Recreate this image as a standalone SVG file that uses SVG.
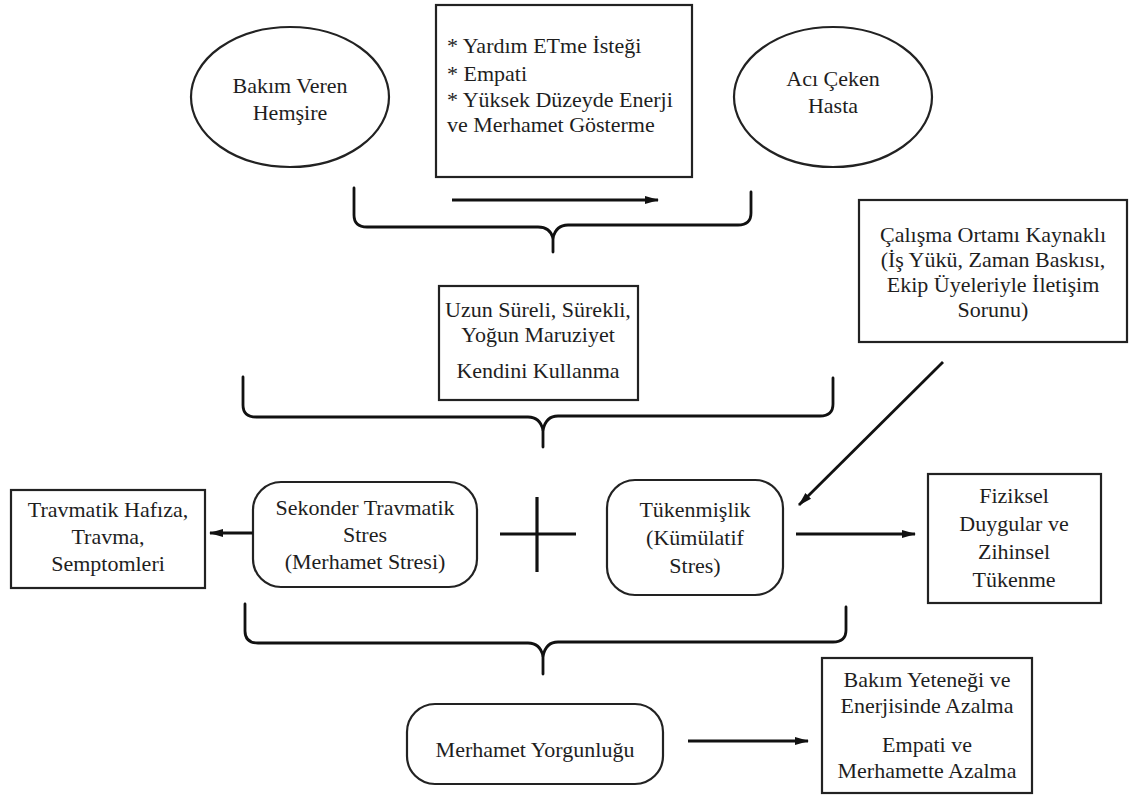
<svg xmlns="http://www.w3.org/2000/svg" width="1129" height="796" viewBox="0 0 1129 796">
  <style>
    .box { fill: #ffffff; stroke: #222; stroke-width: 2.2; }
    text { font-family: 'Liberation Serif', serif; font-size: 22px; fill: #1e1e1e; text-anchor: middle; }
    text.lft { text-anchor: start; }
    .edge { fill: none; stroke: #111; stroke-width: 2.8; }
    .brace { fill: none; stroke: #111; stroke-width: 2.8; stroke-linecap: round; stroke-linejoin: round; }
    .plus { stroke: #111; stroke-width: 3.2; }
  </style>
  <defs>
    <marker id="arrow" markerUnits="userSpaceOnUse" markerWidth="14" markerHeight="10" refX="13" refY="5" orient="auto">
      <path d="M0,1 L14,5 L0,9 z" fill="#111"/>
    </marker>
  </defs>

  <rect width="1129" height="796" fill="#ffffff"/>

  <g id="nurse">
    <ellipse class="box" cx="290" cy="97" rx="99" ry="70"/>
    <text x="290" y="93">Bakım Veren</text>
    <text x="290" y="120">Hemşire</text>
  </g>

  <g id="traits">
    <rect class="box" x="436" y="5" width="256" height="172"/>
    <text class="lft" x="447" y="53">* Yardım ETme İsteği</text>
    <text class="lft" x="447" y="81">* Empati</text>
    <text class="lft" x="447" y="107">* Yüksek Düzeyde Enerji</text>
    <text class="lft" x="447" y="132">ve Merhamet Gösterme</text>
  </g>

  <g id="patient">
    <ellipse class="box" cx="833" cy="97" rx="99" ry="70"/>
    <text x="833" y="86">Acı Çeken</text>
    <text x="833" y="113">Hasta</text>
  </g>

  <g id="exposure">
    <rect class="box" x="439" y="286" width="199" height="114"/>
    <text x="538" y="317">Uzun Süreli, Sürekli,</text>
    <text x="538" y="342">Yoğun Maruziyet</text>
    <text x="538" y="378">Kendini Kullanma</text>
  </g>

  <g id="workplace">
    <rect class="box" x="859" y="200" width="268" height="142"/>
    <text x="993" y="242">Çalışma Ortamı Kaynaklı</text>
    <text x="993" y="267">(İş Yükü, Zaman Baskısı,</text>
    <text x="993" y="292">Ekip Üyeleriyle İletişim</text>
    <text x="993" y="317">Sorunu)</text>
  </g>

  <g id="trauma-symptoms">
    <rect class="box" x="11" y="490" width="194" height="98"/>
    <text x="108" y="517">Travmatik Hafıza,</text>
    <text x="108" y="544">Travma,</text>
    <text x="108" y="571">Semptomleri</text>
  </g>

  <g id="secondary-stress">
    <rect class="box" x="253" y="482" width="224" height="105" rx="28" ry="28"/>
    <text x="365" y="515">Sekonder Travmatik</text>
    <text x="365" y="542">Stres</text>
    <text x="365" y="569">(Merhamet Stresi)</text>
  </g>

  <g id="plus">
    <line class="plus" x1="500" y1="534" x2="576" y2="534"/>
    <line class="plus" x1="537" y1="497" x2="537" y2="572"/>
  </g>

  <g id="burnout">
    <rect class="box" x="607" y="480" width="176" height="115" rx="28" ry="28"/>
    <text x="695" y="517">Tükenmişlik</text>
    <text x="695" y="545">(Kümülatif</text>
    <text x="695" y="573">Stres)</text>
  </g>

  <g id="exhaustion">
    <rect class="box" x="928" y="474" width="173" height="129"/>
    <text x="1014" y="503">Fiziksel</text>
    <text x="1014" y="531">Duygular ve</text>
    <text x="1014" y="559">Zihinsel</text>
    <text x="1014" y="587">Tükenme</text>
  </g>

  <g id="compassion-fatigue">
    <rect class="box" x="407" y="704" width="256" height="80" rx="28" ry="28"/>
    <text x="535" y="757">Merhamet Yorgunluğu</text>
  </g>

  <g id="outcomes">
    <rect class="box" x="822" y="658" width="210" height="135"/>
    <text x="927" y="687">Bakım Yeteneği ve</text>
    <text x="927" y="713">Enerjisinde Azalma</text>
    <text x="927" y="752">Empati ve</text>
    <text x="927" y="778">Merhamette Azalma</text>
  </g>

  <g id="connectors">
    <!-- arrows -->
    <line class="edge" x1="452" y1="200" x2="658" y2="200" marker-end="url(#arrow)"/>
    <line class="edge" x1="253" y1="533" x2="210" y2="533" marker-end="url(#arrow)"/>
    <line class="edge" x1="943" y1="362" x2="799" y2="505" marker-end="url(#arrow)"/>
    <line class="edge" x1="796" y1="534" x2="915" y2="534" marker-end="url(#arrow)"/>
    <line class="edge" x1="688" y1="741" x2="808" y2="741" marker-end="url(#arrow)"/>

    <!-- top brace -->
    <path class="brace" d="M354,188 V215 Q354,227 367,227 H538 Q550,227 553,238 V252"/>
    <path class="brace" d="M751,192 V213 Q751,225 738,225 H568 Q556,225 553,238"/>

    <!-- middle brace -->
    <path class="brace" d="M243,377 V405 Q243,417 256,417 H528 Q540,417 543,430 V447"/>
    <path class="brace" d="M833,378 V404 Q833,416 820,416 H558 Q546,416 543,430"/>

    <!-- bottom brace -->
    <path class="brace" d="M245,604 V631 Q245,643 258,643 H528 Q540,643 543,656 V674"/>
    <path class="brace" d="M846,607 V630 Q846,642 833,642 H558 Q546,642 543,656"/>
  </g>
</svg>
